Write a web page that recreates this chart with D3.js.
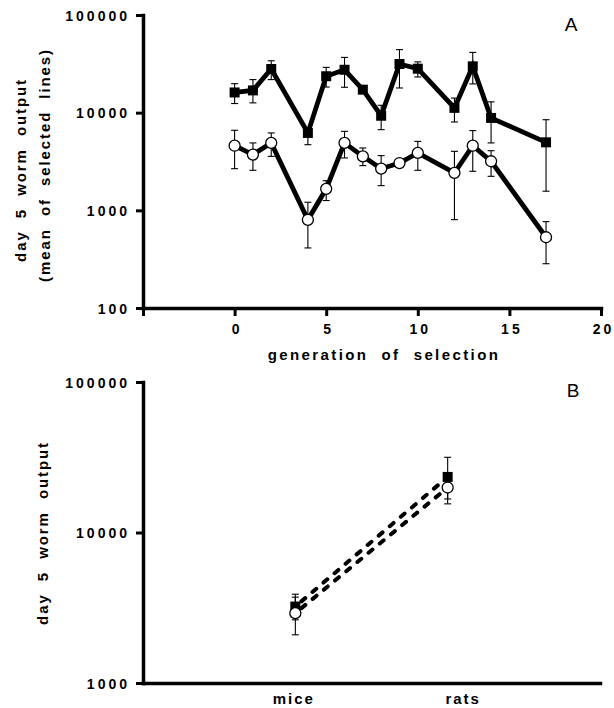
<!DOCTYPE html>
<html>
<head>
<meta charset="utf-8">
<script src="https://cdn.jsdelivr.net/npm/d3@7"></script>
<style>
  body { margin: 0; background: #fff; }
  text { font-family: 'Liberation Sans', Arial, sans-serif; }
</style>
</head>
<body>
<div id="chart"></div>
<script>
// panel A : worm output by generation of selection
const generations = [0, 1, 2, 4, 5, 6, 7, 8, 9, 10, 12, 13, 14, 17]
const squareMean = [16100, 16900, 28000, 6200, 23600, 27500, 17200, 9300, 31500, 28200, 11200, 29800, 8830, 4970]
const squareHi = [19800, 21800, 34000, 7000, 29100, 36800, null, 11900, 44200, 33100, 14100, 41400, 12900, 8470]
const squareLo = [12400, 12600, 21800, 4700, 18300, 18200, null, 6700, 17900, 23200, 8030, 19700, 4900, 1570]
const circleMean = [4590, 3720, 4900, 800, 1660, 4900, 3570, 2670, 3050, 3870, 2420, 4590, 3180, 530]
const circleHi = [6600, 4900, 6200, 1210, 2010, 6440, 4350, 3630, null, 5080, 4020, 6550, 4080, 766]
const circleLo = [2670, 2570, 3570, 412, 1260, 3440, 2870, 1790, null, 2570, 803, 2510, 2230, 284]
const xTicksA = [-5, 0, 5, 10, 15, 20]
const yTicksA = [100, 1000, 10000, 100000]

// panel B : mice vs rats
const hosts = ['mice', 'rats']
const bSquareMean = [3220, 23400]
const bSquareHi = [3890, 31600]
const bSquareLo = [2630, 16700]
const bCircleMean = [2910, 19900]
const bCircleHi = [3720, 24000]
const bCircleLo = [2090, 15500]
const yTicksB = [1000, 10000, 100000]

const svg = d3.select('#chart').append('svg')
  .attr('width', 614)
  .attr('height', 708)

const tickFont = sel => {
  sel.selectAll('text')
    .attr('fill', '#000')
    .style('font-size', '14px')
    .style('font-weight', 'bold')
    .style('letter-spacing', '3px')
  sel.select('.domain').attr('stroke', '#000').attr('stroke-width', 3.5).attr('stroke-linecap', 'square')
  sel.selectAll('.tick line').attr('stroke', '#000').attr('stroke-width', 3)
}

// words in the titles are set wide apart, like the original
const wide = s => s.split(' ').join('\u00a0\u00a0')

const yTitle = (g, x, y, txt) => g.append('text')
  .attr('transform', `translate(${x},${y}) rotate(-90)`)
  .attr('text-anchor', 'middle')
  .style('font-size', '15px')
  .style('font-weight', 'bold')
  .style('letter-spacing', '1.9px')
  .text(wide(txt))

const toPoints = (xs, mean, hi, lo) => xs.map((x, i) => ({ x, v: mean[i], hi: hi[i], lo: lo[i] }))

function drawErrors (g, pts, x, y) {
  const e = g.append('g').attr('stroke', '#000').attr('stroke-width', 1.1)
  pts.filter(d => d.hi != null).forEach(d => {
    const cx = x(d.x)
    e.append('line').attr('x1', cx).attr('x2', cx).attr('y1', y(d.lo)).attr('y2', y(d.hi))
    e.append('line').attr('x1', cx - 3.5).attr('x2', cx + 3.5).attr('y1', y(d.hi)).attr('y2', y(d.hi))
    e.append('line').attr('x1', cx - 3.5).attr('x2', cx + 3.5).attr('y1', y(d.lo)).attr('y2', y(d.lo))
  })
}

function drawSquares (g, pts, x, y) {
  g.append('g').selectAll('rect')
    .data(pts)
    .join('rect')
    .attr('x', d => x(d.x) - 5)
    .attr('y', d => y(d.v) - 5)
    .attr('width', 10)
    .attr('height', 10)
    .attr('fill', '#000')
}

function drawCircles (g, pts, x, y) {
  g.append('g').selectAll('circle')
    .data(pts)
    .join('circle')
    .attr('cx', d => x(d.x))
    .attr('cy', d => y(d.v))
    .attr('r', 5.5)
    .attr('fill', '#fff')
    .attr('stroke', '#000')
    .attr('stroke-width', 1.3)
}

// ---------- panel A ----------
const xA = d3.scaleLinear().domain([-5, 20]).range([143, 601])
const yA = d3.scaleLog().domain([100, 100000]).range([308, 15])

const gA = svg.append('g')

gA.append('g')
  .attr('transform', `translate(0,${yA.range()[0]})`)
  .call(d3.axisBottom(xA).tickValues(xTicksA).tickFormat(d => d < 0 ? '' : d)
    .tickSize(8).tickSizeOuter(0).tickPadding(8))
  .call(tickFont)
  .selectAll('text').attr('dx', '2px')

gA.append('g')
  .attr('transform', `translate(${xA.range()[0]},0)`)
  .call(d3.axisLeft(yA).tickValues(yTicksA).tickFormat(d3.format('d'))
    .tickSize(7).tickSizeOuter(0).tickPadding(6))
  .call(tickFont)
  .selectAll('text').attr('dy', '0.36em')

const sqA = toPoints(generations, squareMean, squareHi, squareLo)
const ciA = toPoints(generations, circleMean, circleHi, circleLo)

const lineA = d3.line().x(d => xA(d.x)).y(d => yA(d.v))

gA.selectAll('path.series')
  .data([sqA, ciA])
  .join('path')
  .attr('class', 'series')
  .attr('d', lineA)
  .attr('fill', 'none')
  .attr('stroke', '#000')
  .attr('stroke-width', 4.8)
  .attr('stroke-linejoin', 'miter')

drawErrors(gA, sqA, xA, yA)
drawErrors(gA, ciA, xA, yA)
drawSquares(gA, sqA, xA, yA)
drawCircles(gA, ciA, xA, yA)

gA.append('text')
  .attr('x', 384)
  .attr('y', 360)
  .attr('text-anchor', 'middle')
  .style('font-size', '15px')
  .style('font-weight', 'bold')
  .style('letter-spacing', '2.4px')
  .text(wide('generation of selection'))

yTitle(gA, 26, 170, 'day 5 worm output')
yTitle(gA, 50, 165, '(mean of selected lines)')

gA.append('text')
  .attr('x', 571)
  .attr('y', 31)
  .attr('text-anchor', 'middle')
  .style('font-size', '19px')
  .text('A')

// ---------- panel B ----------
const xB = d3.scalePoint().domain(hosts).range([143, 600]).padding(1)
const yB = d3.scaleLog().domain([1000, 100000]).range([683, 382])
const xBpos = d => xB(d)

const gB = svg.append('g')

gB.append('g')
  .attr('transform', `translate(0,${yB.range()[0]})`)
  .call(d3.axisBottom(xB).tickSize(0).tickSizeOuter(0).tickPadding(10))
  .call(tickFont)
  .selectAll('text')
  .style('font-size', '15px')
  .style('letter-spacing', '2px')
  .attr('dx', d => d === 'rats' ? '15px' : '-2px')

gB.append('g')
  .attr('transform', `translate(${xB.range()[0]},0)`)
  .call(d3.axisLeft(yB).tickValues(yTicksB).tickFormat(d3.format('d'))
    .tickSize(7).tickSizeOuter(0).tickPadding(6))
  .call(tickFont)
  .selectAll('text').attr('dy', '0.36em')

const sqB = toPoints(hosts, bSquareMean, bSquareHi, bSquareLo)
const ciB = toPoints(hosts, bCircleMean, bCircleHi, bCircleLo)

const lineB = d3.line().x(d => xBpos(d.x)).y(d => yB(d.v))

gB.selectAll('path.series')
  .data([sqB, ciB])
  .join('path')
  .attr('class', 'series')
  .attr('d', lineB)
  .attr('fill', 'none')
  .attr('stroke', '#000')
  .attr('stroke-width', 4)
  .attr('stroke-linecap', 'round')
  .attr('stroke-dasharray', '5 9.5')
  .attr('stroke-dashoffset', -8)

drawErrors(gB, sqB, xBpos, yB)
drawErrors(gB, ciB, xBpos, yB)
drawSquares(gB, sqB, xBpos, yB)
drawCircles(gB, ciB, xBpos, yB)

yTitle(gB, 48, 533, 'day 5 worm output')

gB.append('text')
  .attr('x', 573)
  .attr('y', 397)
  .attr('text-anchor', 'middle')
  .style('font-size', '19px')
  .text('B')
</script>
</body>
</html>
